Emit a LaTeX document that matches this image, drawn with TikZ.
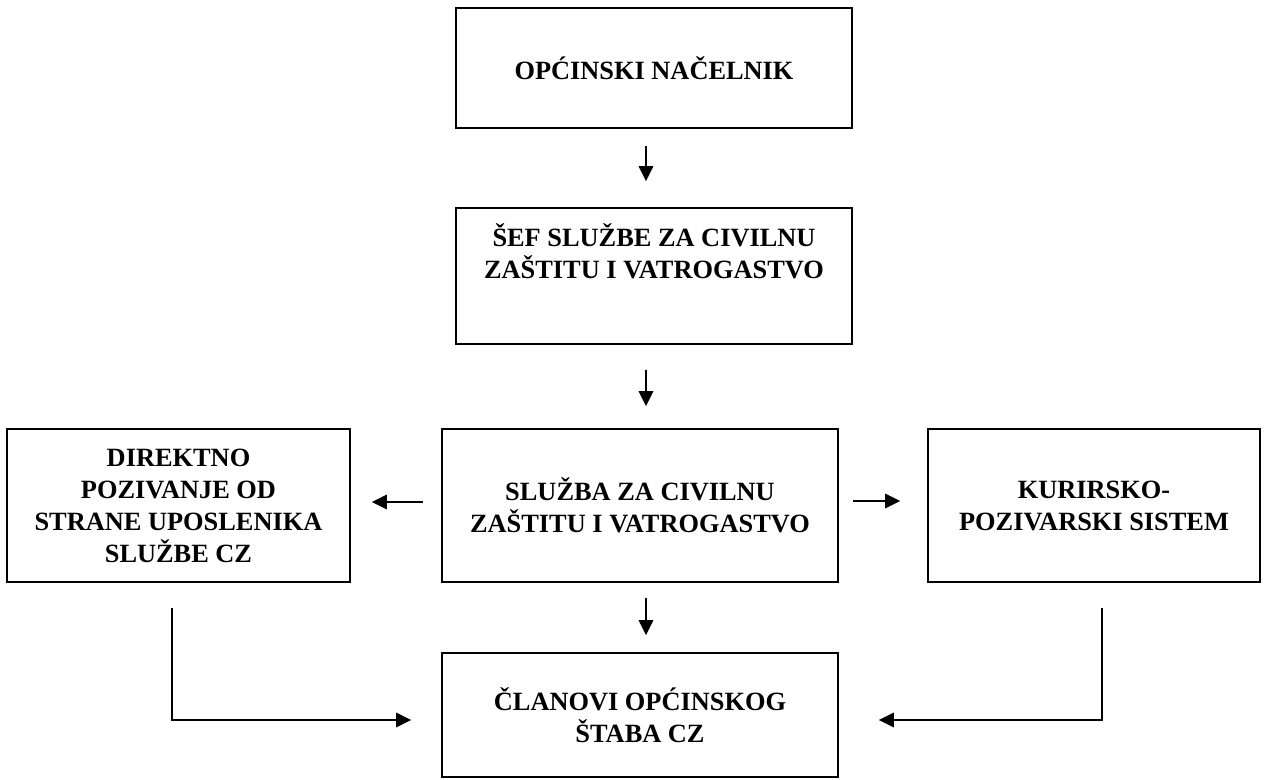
\documentclass[tikz,border=0pt]{standalone}
\usepackage{fontspec}
\setmainfont{Liberation Serif}
\usetikzlibrary{arrows.meta}

\begin{document}
\begin{tikzpicture}[box/.style = {draw, line width=1pt, align=center, font=\bfseries\fontsize{15}{18.2}\selectfont, minimum width=7.92cm},
    arr/.style = {-{Triangle[length=0.3cm,width=0.29cm]}, line width=1pt}]
        \useasboundingbox (0,0) rectangle (25.32,-15.6);
        \node[box, minimum height=2.4cm] (nac) at (13.08,-1.36) {OPĆINSKI NAČELNIK};
        \node[box, minimum height=2.72cm, label={[align=center, font=\bfseries\fontsize{15}{18.2}\selectfont, anchor=north, yshift=-0.2cm]north:{ŠEF SLUŽBE ZA CIVILNU\\ZAŠTITU I VATROGASTVO}}] (sef) at (13.08,-5.52) {};
        \node[box, minimum height=3.06cm] (sluzba) at (12.8,-10.11) {SLUŽBA ZA CIVILNU\\ZAŠTITU I VATROGASTVO};
        \node[box, minimum height=3.06cm, minimum width=6.86cm] (direkt) at (3.57,-10.11) {DIREKTNO\\POZIVANJE OD\\STRANE UPOSLENIKA\\SLUŽBE CZ};
        \node[box, minimum height=3.06cm, minimum width=6.64cm] (kurir) at (21.88,-10.11) {KURIRSKO-\\POZIVARSKI SISTEM};
        \node[box, minimum height=2.48cm] (clanovi) at (12.8,-14.3) {ČLANOVI OPĆINSKOG\\ŠTABA CZ};
        \draw[arr, shorten <=0.34cm, shorten >=0.52cm] ([xshift=-0.16cm]nac.south) -- ([xshift=-0.16cm]sef.north);
        \draw[arr, shorten <=0.5cm, shorten >=0.44cm] ([xshift=-0.16cm]sef.south) -- ([xshift=0.12cm]sluzba.north);
        \draw[arr, shorten <=0.3cm, shorten >=0.34cm] ([xshift=0.12cm]sluzba.south) -- ([xshift=0.12cm]clanovi.north);
        \draw[arr, shorten <=0.36cm, shorten >=0.42cm] ([yshift=0.07cm]sluzba.west) -- ([yshift=0.07cm]direkt.east);
        \draw[arr, shorten <=0.28cm, shorten >=0.54cm] ([yshift=0.09cm]sluzba.east) -- ([yshift=0.09cm]kurir.west);
        \draw[arr, shorten <=0.5cm, shorten >=0.6cm] ([xshift=-0.13cm]direkt.south) |- ([yshift=-0.1cm]clanovi.west);
        \draw[arr, shorten <=0.5cm, shorten >=0.8cm] ([xshift=0.16cm]kurir.south) |- ([yshift=-0.1cm]clanovi.east);
        \end{tikzpicture}
\end{document}
